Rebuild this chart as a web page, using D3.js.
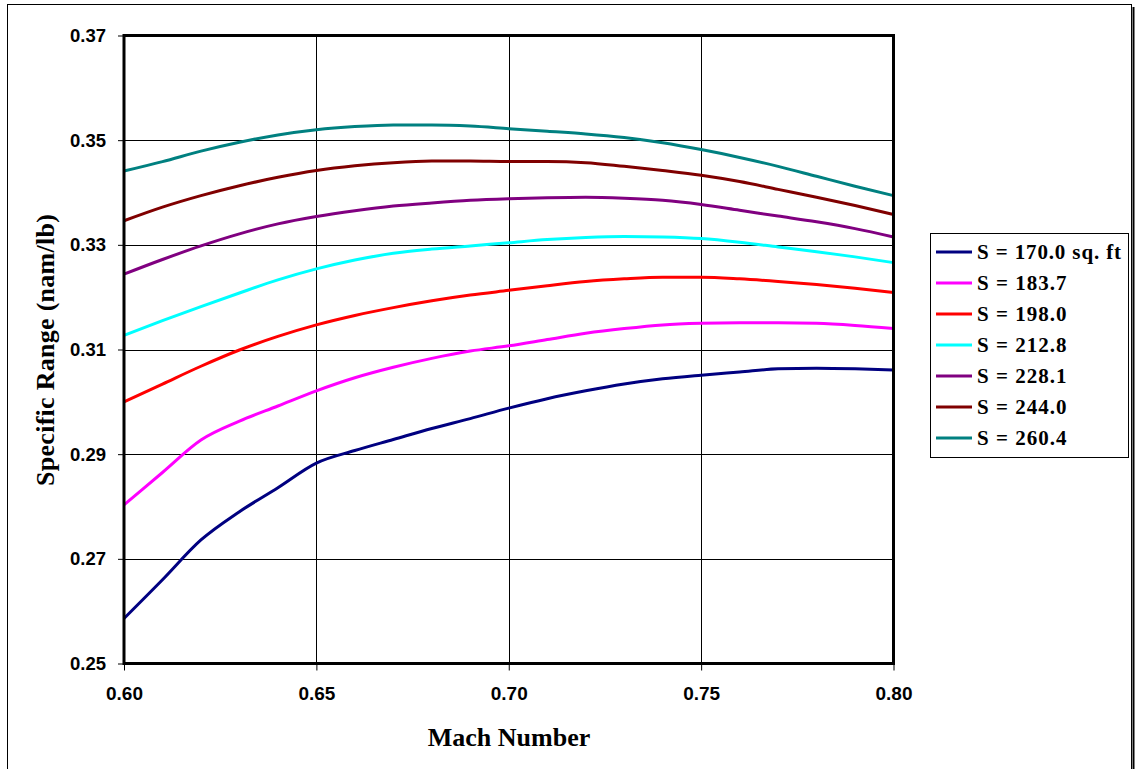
<!DOCTYPE html>
<html>
<head>
<meta charset="utf-8">
<script src="https://cdn.jsdelivr.net/npm/d3@7"></script>
<style>
  html, body { margin: 0; padding: 0; background: #fff; }
  svg { display: block; }
</style>
</head>
<body>
<svg id="chart" width="1136" height="769"></svg>
<script>
// Mach numbers at which specific range was evaluated
const mach = [0.60, 0.61, 0.62, 0.63, 0.64, 0.65, 0.66, 0.67, 0.68, 0.69, 0.70,
              0.71, 0.72, 0.73, 0.74, 0.75, 0.76, 0.77, 0.78, 0.79, 0.80];

// Wing areas (legend labels)
const wingAreas = ["S = 170.0 sq. ft", "S = 183.7", "S = 198.0", "S = 212.8",
                   "S = 228.1", "S = 244.0", "S = 260.4"];

// Specific range (nam/lb) for each wing area
const sr170 = [0.2586, 0.2660, 0.2736, 0.2790, 0.2836, 0.2883, 0.2907, 0.2928, 0.2949, 0.2968, 0.2988,
               0.3006, 0.3021, 0.3034, 0.3044, 0.3051, 0.3057, 0.3063, 0.3064, 0.3063, 0.3061];
const sr183 = [0.2803, 0.2865, 0.2927, 0.2963, 0.2992, 0.3021, 0.3046, 0.3066, 0.3083, 0.3097, 0.3107,
               0.3119, 0.3131, 0.3140, 0.3147, 0.3150, 0.3151, 0.3151, 0.3150, 0.3146, 0.3140];
const sr198 = [0.3000, 0.3034, 0.3068, 0.3099, 0.3125, 0.3147, 0.3165, 0.3180, 0.3193, 0.3204, 0.3213,
               0.3222, 0.3230, 0.3235, 0.3238, 0.3238, 0.3235, 0.3230, 0.3224, 0.3217, 0.3209];
const sr212 = [0.3127, 0.3155, 0.3182, 0.3208, 0.3233, 0.3254, 0.3271, 0.3284, 0.3292, 0.3298, 0.3304,
               0.3310, 0.3314, 0.3316, 0.3315, 0.3312, 0.3305, 0.3296, 0.3287, 0.3277, 0.3266];
const sr228 = [0.3244, 0.3272, 0.3298, 0.3321, 0.3340, 0.3354, 0.3365, 0.3374, 0.3380, 0.3385, 0.3388,
               0.3390, 0.3391, 0.3389, 0.3385, 0.3377, 0.3366, 0.3355, 0.3344, 0.3331, 0.3315];
const sr244 = [0.3346, 0.3372, 0.3394, 0.3413, 0.3429, 0.3442, 0.3451, 0.3457, 0.3460, 0.3460, 0.3459,
               0.3459, 0.3457, 0.3450, 0.3442, 0.3433, 0.3421, 0.3406, 0.3391, 0.3375, 0.3358];
const sr260 = [0.3441, 0.3459, 0.3479, 0.3496, 0.3510, 0.3520, 0.3526, 0.3529, 0.3529, 0.3527, 0.3522,
               0.3517, 0.3512, 0.3505, 0.3495, 0.3482, 0.3467, 0.3450, 0.3431, 0.3412, 0.3394];

const seriesValues = [sr170, sr183, sr198, sr212, sr228, sr244, sr260];
const seriesColors = ["#000080", "#FF00FF", "#FF0000", "#00FFFF", "#800080", "#800000", "#008080"];

const xTicks = [0.60, 0.65, 0.70, 0.75, 0.80];
const yTicks = [0.25, 0.27, 0.29, 0.31, 0.33, 0.35, 0.37];

const svg = d3.select("#chart");

// outer chart frame (with a drop shadow on the right)
svg.append("rect").attr("x", 7.5).attr("y", 4.5).attr("width", 1124).attr("height", 800)
  .attr("fill", "#fff").attr("stroke", "#000").attr("stroke-width", 1);
svg.append("line").attr("x1", 1133.5).attr("x2", 1133.5).attr("y1", 7).attr("y2", 769)
  .attr("stroke", "#000").attr("stroke-width", 2);

const plot = { left: 124, right: 893.5, top: 35.5, bottom: 663.5 };

const x = d3.scaleLinear().domain([0.60, 0.80]).range([plot.left, plot.right]);
const y = d3.scaleLinear().domain([0.25, 0.37]).range([plot.bottom, plot.top]);

// gridlines
const grid = svg.append("g");
grid.selectAll("line.h").data(yTicks.slice(1, -1)).join("line")
  .attr("x1", plot.left).attr("x2", plot.right)
  .attr("y1", d => Math.round(y(d)) + 0.5).attr("y2", d => Math.round(y(d)) + 0.5)
  .attr("stroke", "#000").attr("stroke-width", 1);
grid.selectAll("line.v").data(xTicks.slice(1, -1)).join("line")
  .attr("y1", plot.top).attr("y2", plot.bottom)
  .attr("x1", d => Math.round(x(d)) + 0.5).attr("x2", d => Math.round(x(d)) + 0.5)
  .attr("stroke", "#000").attr("stroke-width", 1);

// axes
const sans = "Liberation Sans, Arial, sans-serif";
const yAxis = d3.axisLeft(y).tickValues(yTicks).tickFormat(d3.format(".2f"))
  .tickSize(6).tickPadding(12);
const gy = svg.append("g").attr("transform", `translate(${plot.left},0)`).call(yAxis);
gy.select(".domain").remove();
gy.selectAll("text").attr("font-family", sans)
  .attr("font-weight", "bold").attr("font-size", 18.5).attr("fill", "#000");

const xAxis = d3.axisBottom(x).tickValues(xTicks).tickFormat(d3.format(".2f"))
  .tickSize(7).tickPadding(16);
const gx = svg.append("g").attr("transform", `translate(0,${plot.bottom})`).call(xAxis);
gx.select(".domain").remove();
gx.selectAll("text").attr("font-family", sans)
  .attr("font-weight", "bold").attr("font-size", 19).attr("fill", "#000");

// series lines
const line = d3.line()
  .x((d, i) => x(mach[i]))
  .y(d => y(d))
  .curve(d3.curveMonotoneX);

svg.append("g").selectAll("path").data(seriesValues).join("path")
  .attr("d", line)
  .attr("fill", "none")
  .attr("stroke", (d, i) => seriesColors[i])
  .attr("stroke-width", 3)
  .attr("stroke-linejoin", "round");

// plot area border
svg.append("rect")
  .attr("x", plot.left).attr("y", plot.top)
  .attr("width", plot.right - plot.left).attr("height", plot.bottom - plot.top)
  .attr("fill", "none").attr("stroke", "#000").attr("stroke-width", 3);

// axis titles
const serif = "Liberation Serif, Times New Roman, serif";
svg.append("text").attr("x", 509).attr("y", 746).attr("text-anchor", "middle")
  .attr("font-family", serif).attr("font-weight", "bold").attr("font-size", 26)
  .text("Mach Number");

svg.append("text").attr("transform", "translate(54,350) rotate(-90)").attr("text-anchor", "middle")
  .attr("font-family", serif).attr("font-weight", "bold").attr("font-size", 26)
  .attr("textLength", 272).attr("lengthAdjust", "spacing")
  .text("Specific Range (nam/lb)");

// legend
const legend = svg.append("g");
legend.append("rect").attr("x", 930.5).attr("y", 233.5).attr("width", 198).attr("height", 224)
  .attr("fill", "#fff").attr("stroke", "#000").attr("stroke-width", 1);
const rowY = d3.scalePoint().domain(d3.range(wingAreas.length)).range([252, 438]);
const items = legend.selectAll("g.item").data(wingAreas).join("g")
  .attr("transform", (d, i) => `translate(0,${rowY(i)})`);
items.append("line").attr("x1", 936).attr("x2", 972).attr("y1", 0).attr("y2", 0)
  .attr("stroke", (d, i) => seriesColors[i]).attr("stroke-width", 3);
items.append("text").attr("x", 977).attr("y", 7)
  .attr("font-family", serif).attr("font-weight", "bold").attr("font-size", 21)
  .text(d => d)
  .each(function () {
    const w = this.getComputedTextLength();
    d3.select(this).attr("textLength", w * 1.1).attr("lengthAdjust", "spacing");
  });
</script>
</body>
</html>
